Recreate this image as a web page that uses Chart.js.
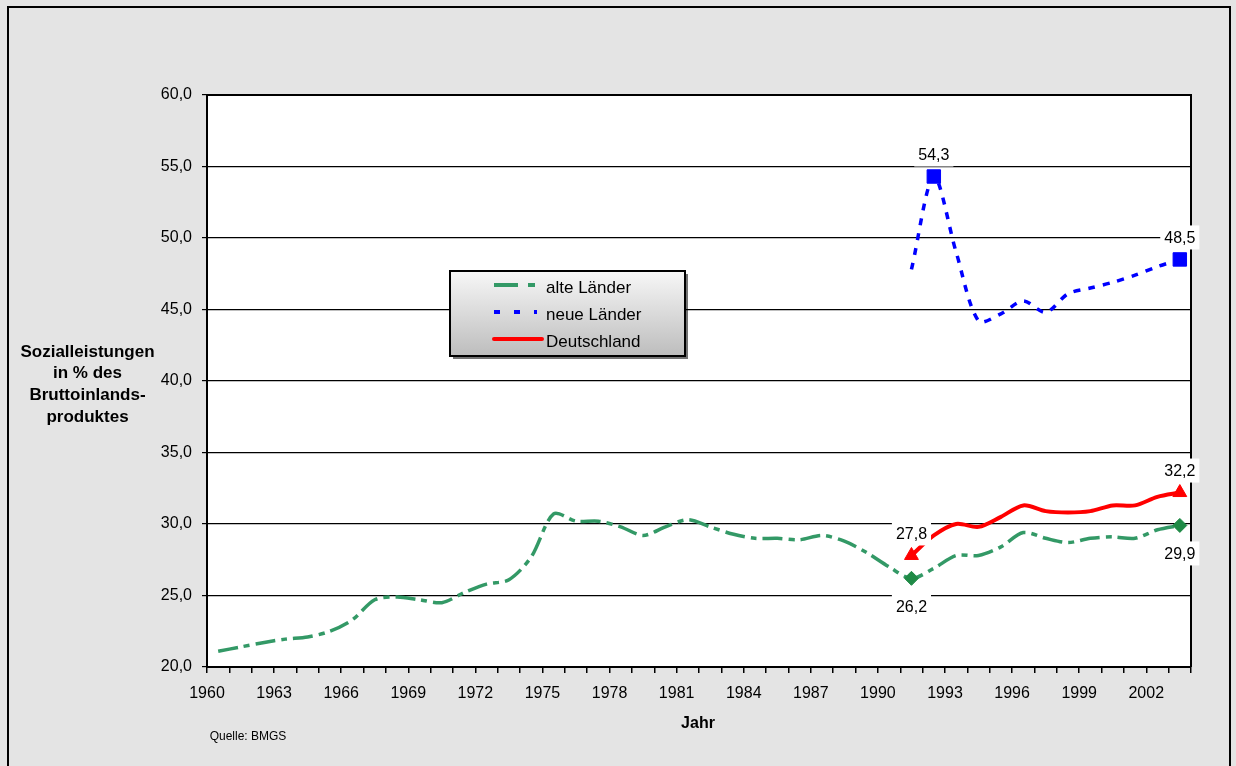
<!DOCTYPE html>
<html><head><meta charset="utf-8">
<script src="https://cdn.jsdelivr.net/npm/chart.js@4.4.1/dist/chart.umd.min.js"></script>
<style>html,body{margin:0;padding:0;background:#e4e4e4;overflow:hidden}#wrap{width:1236px;height:766px;position:relative}</style>
</head><body><div id="wrap"><canvas id="c" width="1236" height="766"></canvas></div>
<script>
// ---- data ----
const years = [1960,1961,1962,1963,1964,1965,1966,1967,1968,1969,1970,1971,1972,1973,1974,1975,1976,1977,1978,1979,1980,1981,1982,1983,1984,1985,1986,1987,1988,1989,1990,1991,1992,1993,1994,1995,1996,1997,1998,1999,2000,2001,2002,2003];
const alteLaender = [21.1,21.4,21.7,21.95,22.1,22.5,23.3,24.7,24.9,24.7,24.5,25.2,25.8,26.1,27.7,30.7,30.2,30.2,29.8,29.2,29.8,30.3,29.8,29.3,29.0,29.0,28.9,29.2,28.8,28.0,27.0,26.2,26.9,27.8,27.8,28.4,29.4,29.0,28.7,29.0,29.1,29.0,29.6,29.9];
const yearsNeu = [1991,1992,1993,1994,1995,1996,1997,1998,1999,2000,2001,2002,2003];
const neueLaender = [47.8,54.3,49.0,44.2,44.7,45.6,44.8,46.1,46.5,46.9,47.4,48.0,48.5];
const deutschland = [27.8,29.2,30.0,29.8,30.5,31.3,30.9,30.8,30.9,31.3,31.3,31.9,32.2];
const xTickYears = [1960,1963,1966,1969,1972,1975,1978,1981,1984,1987,1990,1993,1996,1999,2002];
const yTicks = [20,25,30,35,40,45,50,55,60];
const seriesNames = ['alte Länder','neue Länder','Deutschland'];
const markedAlte = [1991,2003];
const markedNeue = [1992,2003];
const markedDeutschland = [1991,2003];
const yTitleLines = ['Sozialleistungen','in % des','Bruttoinlands-','produktes'];
const xTitle = 'Jahr';
const sourceText = 'Quelle: BMGS';

// ---- helpers ----
const fmt = v => v.toFixed(1).replace('.', ',');
const pts = (ys, vs) => ys.map((y, i) => ({x: y + 0.5, y: vs[i]}));
const radii = (ys, marked, r) => ys.map(y => marked.includes(y) ? r : 0);
const FONT = '"Liberation Sans", Arial, sans-serif';

const COLORS = {alte:'#339966', alteMark:'#1f8a46', neue:'#0000ff', de:'#ff0000'};

const labelSpecs = [
  {ds:1, year:1992, pos:'above'},
  {ds:1, year:2003, pos:'above'},
  {ds:2, year:2003, pos:'above'},
  {ds:2, year:1991, pos:'above'},
  {ds:0, year:1991, pos:'below'},
  {ds:0, year:2003, pos:'below'}
];

const decor = {
  id:'decor',
  beforeDraw(chart){
    const ctx = chart.ctx, a = chart.chartArea;
    ctx.save();
    ctx.fillStyle = '#e4e4e4';
    ctx.fillRect(0,0,chart.width,chart.height);
    ctx.strokeStyle = '#000'; ctx.lineWidth = 2;
    ctx.beginPath();
    ctx.moveTo(8, 770); ctx.lineTo(8, 7); ctx.lineTo(1230, 7); ctx.lineTo(1230, 770);
    ctx.stroke();
    ctx.fillStyle = '#fff';
    ctx.fillRect(a.left, a.top, a.right - a.left, a.bottom - a.top);
    ctx.restore();
  },
  afterDatasetsDraw(chart){
    const ctx = chart.ctx, a = chart.chartArea;
    ctx.save();
    ctx.strokeStyle = '#000'; ctx.lineWidth = 2;
    ctx.beginPath();
    ctx.moveTo(a.left, a.top); ctx.lineTo(a.right, a.top); ctx.lineTo(a.right, a.bottom);
    ctx.stroke();

    // data labels
    ctx.font = '16px ' + FONT;
    ctx.textAlign = 'center'; ctx.textBaseline = 'middle';
    labelSpecs.forEach(s => {
      const ds = chart.data.datasets[s.ds];
      const idx = ds.data.findIndex(p => p.x === s.year + 0.5);
      const el = chart.getDatasetMeta(s.ds).data[idx];
      const txt = fmt(ds.data[idx].y);
      const cy = el.y + (s.pos === 'above' ? -22 : 28);
      const w = ctx.measureText(txt).width + 8;
      ctx.fillStyle = '#fff';
      ctx.fillRect(el.x - w/2, cy - 12, w, 24);
      ctx.fillStyle = '#000';
      ctx.fillText(txt, el.x, cy + 1);
    });

    // legend box
    const lx = 450, ly = 271, lw = 235, lh = 85;
    ctx.fillStyle = 'rgba(0,0,0,0.55)';
    ctx.fillRect(lx + 3, ly + 3, lw, lh);
    const g = ctx.createLinearGradient(0, ly, 0, ly + lh);
    g.addColorStop(0, '#f7f7f7'); g.addColorStop(1, '#bdbdbd');
    ctx.fillStyle = g;
    ctx.fillRect(lx, ly, lw, lh);
    ctx.strokeStyle = '#000'; ctx.lineWidth = 2;
    ctx.strokeRect(lx, ly, lw, lh);
    const rows = [285, 312, 339];
    const styles = [
      {c:COLORS.alte, dash:[24,10,7,10], w:4},
      {c:COLORS.neue, dash:[6,14], w:4},
      {c:COLORS.de, dash:[], w:4}
    ];
    rows.forEach((ry, i) => {
      ctx.save();
      ctx.strokeStyle = styles[i].c; ctx.lineWidth = styles[i].w;
      ctx.setLineDash(styles[i].dash);
      ctx.lineCap = i === 2 ? 'round' : 'butt';
      ctx.beginPath(); ctx.moveTo(494, ry); ctx.lineTo(i === 2 ? 542 : 537, ry); ctx.stroke();
      ctx.restore();
      ctx.fillStyle = '#000';
      ctx.font = '17px ' + FONT;
      ctx.textAlign = 'left'; ctx.textBaseline = 'middle';
      ctx.fillText(seriesNames[i], 546, ry + 3);
    });

    // titles
    ctx.fillStyle = '#000';
    ctx.textAlign = 'center'; ctx.textBaseline = 'middle';
    ctx.font = 'bold 17px ' + FONT;
    yTitleLines.forEach((t, i) => ctx.fillText(t, 87.5, 352 + i * 21.7));
    ctx.font = 'bold 16px ' + FONT;
    ctx.fillText(xTitle, 698, 724);
    ctx.font = '12px ' + FONT;
    ctx.fillText(sourceText, 248, 737);
    ctx.restore();
  }
};

new Chart(document.getElementById('c'), {
  type: 'line',
  data: {
    datasets: [
      {label: seriesNames[0], data: pts(years, alteLaender), borderColor: COLORS.alte, borderWidth: 3.5,
       borderDash: [20,6,6,6], tension: 0.3, pointStyle: 'rectRot', pointRadius: radii(years, markedAlte, 7),
       pointBackgroundColor: COLORS.alteMark, pointBorderColor: COLORS.alteMark, pointBorderWidth: 1},
      {label: seriesNames[1], data: pts(yearsNeu, neueLaender), borderColor: COLORS.neue, borderWidth: 3.5,
       borderDash: [7,8], tension: 0.3, pointStyle: 'rect', pointRadius: radii(yearsNeu, markedNeue, 9.5),
       pointBackgroundColor: COLORS.neue, pointBorderColor: COLORS.neue, pointBorderWidth: 1},
      {label: seriesNames[2], data: pts(yearsNeu, deutschland), borderColor: COLORS.de, borderWidth: 4,
       tension: 0.3, pointStyle: 'triangle', pointRadius: radii(yearsNeu, markedDeutschland, 8),
       pointBackgroundColor: COLORS.de, pointBorderColor: COLORS.de, pointBorderWidth: 1}
    ]
  },
  options: {
    responsive: false, animation: false, devicePixelRatio: 1,
    layout: {padding: {top: 95, right: 45, bottom: 0, left: 0}},
    plugins: {legend: {display: false}, tooltip: {enabled: false}},
    scales: {
      x: {
        type: 'linear', min: 1960, max: 2004,
        afterFit: s => { s.height = 99; },
        ticks: {stepSize: 1, autoSkip: false, maxRotation: 0, color: '#000', padding: 11,
          font: {family: FONT, size: 16},
          callback: v => xTickYears.includes(v) ? String(v) : ''},
        grid: {drawOnChartArea: false, drawTicks: true, tickLength: 6, color: '#000', lineWidth: 1.5},
        border: {color: '#000', width: 2}
      },
      y: {
        min: 20, max: 60,
        afterFit: s => { s.width = 207; },
        afterBuildTicks: s => { s.ticks = yTicks.map(v => ({value: v})); },
        ticks: {color: '#000', padding: 10, font: {family: FONT, size: 16}, callback: v => fmt(v)},
        grid: {color: '#000', lineWidth: 1.2, drawTicks: true, tickLength: 5},
        border: {color: '#000', width: 2}
      }
    }
  },
  plugins: [decor]
});
</script>
</body></html>
